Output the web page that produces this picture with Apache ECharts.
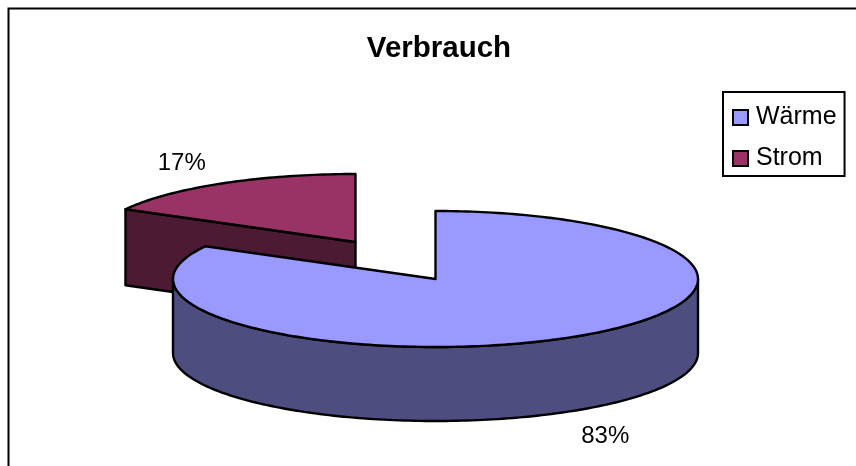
<!DOCTYPE html>
<html>
<head>
<meta charset="utf-8">
<style>
  html, body { margin: 0; padding: 0; background: #fff; }
  #main { width: 856px; height: 466px; }
</style>
<script src="https://cdn.jsdelivr.net/npm/echarts@6/dist/echarts.min.js"></script>
</head>
<body>
<div id="main"></div>
<script>
var chartDom = document.getElementById('main');
var myChart = echarts.init(chartDom);
var option;

// Data
const categories = ['Wärme', 'Strom'];
const shares = [83, 17];

// Excel style flat 3D pie
const topColors = ['#9999FF', '#993366'];
const sideColors = ['#4D4D80', '#4D1A33'];
const pie = { cx: 435.5, cy: 279, rx: 262.5, ry: 68 };
const depths = [74, 76];
const offsets = [[0, 0], [-80, -37]];
// how far out the percent label sits, in radii (x, y)
const labelReach = [[1.27, 1.43], [1.3, 1.35]];
const outline = { stroke: '#000', lineWidth: 2.4, lineJoin: 'round' };
const fontFamily = '"Liberation Sans", Arial, sans-serif';

const total = shares.reduce((a, b) => a + b, 0);

// angle runs clockwise from 12 o'clock
function pointAt(c, angle, down) {
  return [
    c[0] + pie.rx * Math.sin(angle),
    c[1] - pie.ry * Math.cos(angle) + (down || 0)
  ];
}

function arcPoints(c, from, to, down) {
  const steps = Math.max(2, Math.ceil(Math.abs(to - from) / 0.02));
  const pts = [];
  for (let i = 0; i <= steps; i++) {
    pts.push(pointAt(c, from + (to - from) * i / steps, down));
  }
  return pts;
}

function poly(points, fill) {
  return {
    type: 'polygon',
    shape: { points: points },
    style: Object.assign({ fill: fill }, outline)
  };
}

function sliceRenderer(index) {
  return function () {
    const before = shares.slice(0, index).reduce((a, b) => a + b, 0);
    const start = before / total * Math.PI * 2;
    const end = (before + shares[index]) / total * Math.PI * 2;
    const mid = (start + end) / 2;
    const c = [pie.cx + offsets[index][0], pie.cy + offsets[index][1]];
    const depth = depths[index];
    const children = [];

    // cut face that looks to the viewer
    if (index > 0) {
      const p = pointAt(c, start);
      children.push(poly([p, c, [c[0], c[1] + depth], [p[0], p[1] + depth]], sideColors[index]));
    }
    // front wall, only the part of the rim below the ellipse's widest line
    const wallFrom = Math.max(start, Math.PI / 2);
    const wallTo = Math.min(end, Math.PI * 1.5);
    if (wallTo > wallFrom) {
      children.push(poly(
        arcPoints(c, wallFrom, wallTo).concat(arcPoints(c, wallTo, wallFrom, depth)),
        sideColors[index]
      ));
    }
    // top face
    children.push(poly([c].concat(arcPoints(c, start, end)), topColors[index]));
    // percent label outside the rim
    const front = Math.cos(mid) < 0;
    children.push({
      type: 'text',
      style: {
        x: c[0] + labelReach[index][0] * pie.rx * Math.sin(mid),
        y: c[1] - labelReach[index][1] * pie.ry * Math.cos(mid) + (front ? depth : 0),
        text: Math.round(shares[index] / total * 100) + '%',
        fill: '#000',
        font: '24px ' + fontFamily,
        align: 'center',
        verticalAlign: 'middle'
      }
    });
    return { type: 'group', children: children };
  };
}

option = {
  animation: false,
  backgroundColor: '#fff',
  title: {
    text: 'Verbrauch',
    left: 434,
    top: 29,
    textAlign: 'center',
    textStyle: { color: '#000', fontFamily: fontFamily, fontWeight: 'bold', fontSize: 29.5 }
  },
  legend: {
    data: categories,
    orient: 'vertical',
    left: 723,
    top: 92,
    padding: [13, 8, 5, 9],
    itemWidth: 15,
    itemHeight: 15,
    itemGap: 16,
    icon: 'rect',
    borderColor: '#000',
    borderWidth: 2,
    selectedMode: false,
    textStyle: { color: '#000', fontFamily: fontFamily, fontSize: 25, padding: [0, 0, 0, 3] }
  },
  graphic: [
    {
      type: 'polyline',
      shape: { points: [[8.5, 466], [8.5, 8.5], [856, 8.5]] },
      style: { stroke: '#000', lineWidth: 2, fill: 'none' },
      silent: true
    }
  ],
  // Strom first, Wärme sits in front of it
  series: [1, 0].map(function (i) {
    return {
      name: categories[i],
      type: 'custom',
      coordinateSystem: 'none',
      silent: true,
      itemStyle: { color: topColors[i], borderColor: '#000', borderWidth: 2 },
      data: [shares[i]],
      renderItem: sliceRenderer(i)
    };
  })
};

option && myChart.setOption(option);
</script>
</body>
</html>
